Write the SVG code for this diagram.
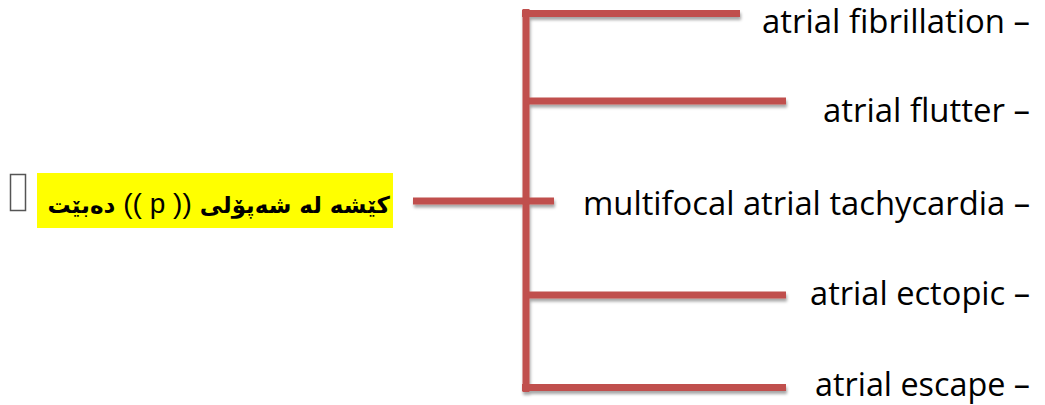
<svg xmlns="http://www.w3.org/2000/svg" width="1045" height="405" viewBox="0 0 1045 405">
<defs>
<filter id="sh" x="-10%" y="-50%" width="120%" height="200%">
<feDropShadow dx="1" dy="3" stdDeviation="1.5" flood-color="#000" flood-opacity="0.35"/>
</filter>
<style>
.ln{stroke:#C0504D;stroke-width:7;fill:none;stroke-linecap:butt}
.lbl{font-family:"Open Sans","Liberation Sans",sans-serif;font-size:32px;fill:#000;text-anchor:end}
.ar{font-family:"DejaVu Sans","Noto Sans",sans-serif;font-size:23px;font-weight:bold;fill:#000}
.pp{font-family:"Liberation Sans",sans-serif;font-weight:normal;font-size:28px}
</style>
</defs>
<rect width="1045" height="405" fill="#fff"/>
<g id="connectors" filter="url(#sh)">
<line class="ln" x1="526" y1="9" x2="526" y2="392"/>
<line class="ln" x1="522" y1="13.5" x2="740" y2="13.5"/>
<line class="ln" x1="526" y1="101" x2="786" y2="101"/>
<line class="ln" x1="413" y1="201" x2="554" y2="201"/>
<line class="ln" x1="526" y1="295" x2="786" y2="295"/>
<line class="ln" x1="522" y1="387.5" x2="786" y2="387.5"/>
</g>
<g id="source">
<rect x="10.5" y="174.5" width="15" height="36" fill="none" stroke="#555" stroke-width="1.5"/>
<rect x="37" y="173" width="356" height="55" fill="#FFFF00"/>
<text class="ar" x="390" y="213" direction="rtl" text-anchor="start">کێشه له شه‌پۆلی <tspan class="pp">(( p ))</tspan> ده‌بێت</text>
</g>
<g id="n1"><text class="lbl" x="1030" y="33" textLength="268" lengthAdjust="spacingAndGlyphs">atrial fibrillation –</text></g>
<g id="n2"><text class="lbl" x="1030" y="122" textLength="207" lengthAdjust="spacingAndGlyphs">atrial flutter –</text></g>
<g id="n3"><text class="lbl" x="1030" y="215" textLength="447" lengthAdjust="spacingAndGlyphs">multifocal atrial tachycardia –</text></g>
<g id="n4"><text class="lbl" x="1030" y="305" textLength="220" lengthAdjust="spacingAndGlyphs">atrial ectopic –</text></g>
<g id="n5"><text class="lbl" x="1030" y="396" textLength="215" lengthAdjust="spacingAndGlyphs">atrial escape –</text></g>
</svg>
